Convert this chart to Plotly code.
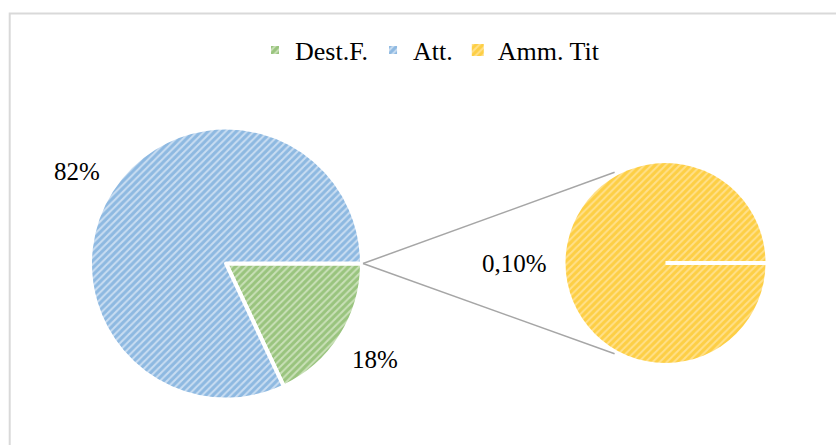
import math
import plotly.graph_objects as go

# ---- data ----
primary_labels = ["Dest.F.", "Att."]
primary_values = [18, 82]
primary_text = ["18%", "82%"]

secondary_labels = ["Amm. Tit"]
secondary_values = [0.10]
secondary_text = ["0,10%"]

# ---- style ----
W, H = 836, 445
FONT = "Liberation Serif"
fg = {"Dest.F.": "#6aa843", "Att.": "#5496d2", "Amm. Tit": "#fcbd00"}
bg = {"Dest.F.": "#c9e0b8", "Att.": "#c9ddf1", "Amm. Tit": "#ffe08a"}

# pie geometry in pixels (from top-left)
L_CX, L_CY, L_R = 226, 263.5, 136
R_CX, R_CY, R_R = 665.5, 263, 100


def domain(cx, cy, r):
    return dict(x=[(cx - r) / W, (cx + r) / W], y=[1 - (cy + r) / H, 1 - (cy - r) / H])


def to_paper(x, y):
    return x / W, 1 - y / H


def pie(labels, values, cx, cy, r, line_w, showlegend=True):
    return go.Pie(
        labels=labels, values=values, sort=False, direction="clockwise", rotation=90,
        textinfo="none", hoverinfo="label+percent", showlegend=showlegend,
        domain=domain(cx, cy, r),
        marker=dict(
            colors=[bg[l] for l in labels],
            line=dict(color="white", width=line_w),
            pattern=dict(shape="/", fgcolor=[fg[l] for l in labels], size=5,
                         solidity=0.6, fillmode="overlay"),
        ),
    )


fig = go.Figure()
fig.add_trace(pie(primary_labels, primary_values, L_CX, L_CY, L_R, 4))
fig.add_trace(pie(secondary_labels, secondary_values, R_CX, R_CY, R_R, 0))

annotations = []


def add_labels(values, texts, cx, cy, dist, dx=0, dy=0):
    total = sum(values)
    cum = 0
    for v, t in zip(values, texts):
        theta = 2 * math.pi * (cum + v / 2) / total
        cum += v
        x, y = to_paper(cx + dist * math.cos(theta) + dx, cy + dist * math.sin(theta) + dy)
        annotations.append(dict(x=x, y=y, xref="paper", yref="paper", text=t,
                                showarrow=False, xanchor="center", yanchor="middle",
                                font=dict(family=FONT, size=25, color="black")))


add_labels(primary_values, primary_text, L_CX, L_CY, 176, dy=2)
add_labels(secondary_values, secondary_text, R_CX, R_CY, 151)

shapes = []
# outer chart border
shapes.append(dict(type="rect", xref="paper", yref="paper", x0=9.7 / W, x1=1.05,
                   y0=-0.05, y1=1 - 13.5 / H, line=dict(color="#d9d9d9", width=2)))
# connector lines
start = to_paper(L_CX + L_R - 2 + 3, L_CY)
ang = math.radians(119.3)
for s in (1, -1):
    end = to_paper(R_CX + 104 * math.cos(ang), R_CY - s * 104 * math.sin(ang))
    shapes.append(dict(type="line", xref="paper", yref="paper", x0=start[0], y0=start[1],
                       x1=end[0], y1=end[1], line=dict(color="#a6a6a6", width=1.5)))
# seam of the secondary pie
c0 = to_paper(R_CX, R_CY)
c1 = to_paper(R_CX + R_R + 1, R_CY)
shapes.append(dict(type="line", xref="paper", yref="paper", x0=c0[0], y0=c0[1],
                   x1=c1[0], y1=c1[1], line=dict(color="white", width=4)))

fig.update_layout(
    width=W, height=H, autosize=False,
    margin=dict(l=0, r=0, t=0, b=0),
    paper_bgcolor="white", plot_bgcolor="white",
    font=dict(family=FONT, color="black"),
    legend=dict(orientation="h", x=430 / W, xanchor="center", y=1 - 50 / H,
                yanchor="middle", font=dict(family=FONT, size=26, color="black"),
                itemwidth=30, bgcolor="rgba(0,0,0,0)"),
    annotations=annotations,
    shapes=shapes,
)

fig.write_html("out.html", config={"displayModeBar": False},
               post_script="document.body.style.margin='0';document.body.style.overflow='hidden';")
